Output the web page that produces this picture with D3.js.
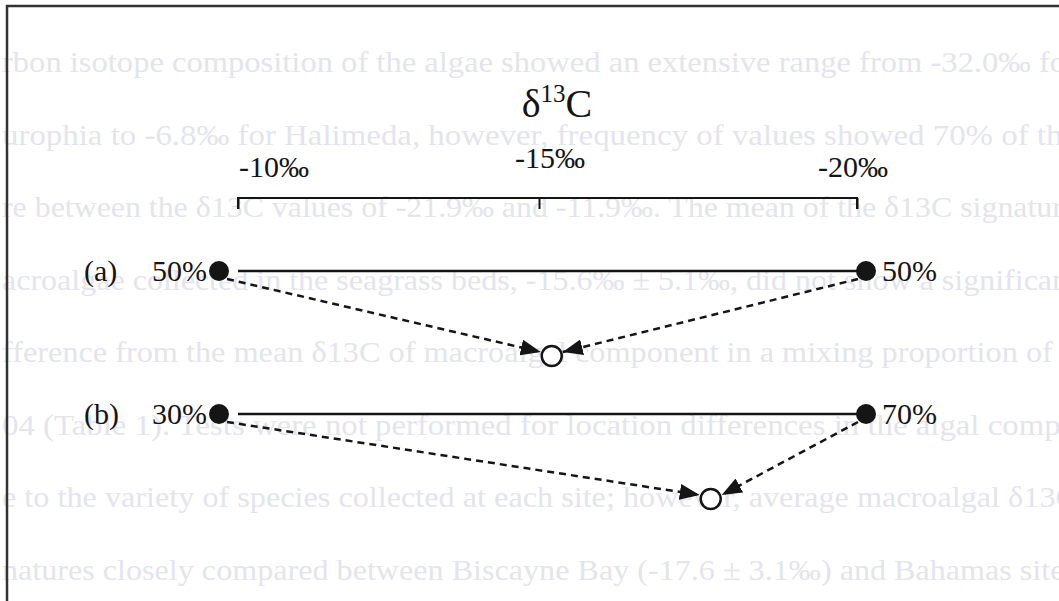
<!DOCTYPE html>
<html>
<head>
<meta charset="utf-8">
<script src="https://cdn.jsdelivr.net/npm/d3@7"></script>
<style>
  body { margin: 0; background: #fff; }
  text { font-family: "Liberation Serif", "Times New Roman", serif; }
</style>
</head>
<body>
<div id="vis"></div>
<script>
    // values
    var tickValues = [-10, -15, -20],
        tickLabels = ["-10‰", "-15‰", "-20‰"],
        rowNames = ["(a)", "(b)"],
        leftShare = [50, 30],
        rightShare = [50, 70],
        endmembers = [-10, -20],
        mixValues = [-15.2, -17.7];

    // bleed-through text from the other side of the page
    var pageLines = [
        "rbon isotope composition of the algae showed an extensive range from -32.0‰ for",
        "urophia to -6.8‰ for Halimeda, however, frequency of values showed 70% of the",
        "re between the δ13C values of -21.9‰ and -11.9‰. The mean of the δ13C signature",
        "acroalgae collected in the seagrass beds, -15.6‰ ± 5.1‰, did not show a significant",
        "fference from the mean δ13C of macroalgal component in a mixing proportion of 7",
        "04 (Table 1). Tests were not performed for location differences in the algal compo",
        "e to the variety of species collected at each site; however, average macroalgal δ13C",
        "natures closely compared between Biscayne Bay (-17.6 ± 3.1‰) and Bahamas sites"
    ];

    var W = 1059, H = 601;
    var ink = "#151515";

    var svg = d3.select("#vis").append("svg").attr("width", W).attr("height", H);

    var x = d3.scaleLinear().domain([-10, -15, -20]).range([238, 539, 857]),
        y = d3.scalePoint().domain(rowNames).range([271, 414]),
        ghostY = d3.scaleLinear().domain([0, pageLines.length - 1]).range([72, 580]);

    // faint page text
    svg.append("g").selectAll("text").data(pageLines).join("text")
        .attr("x", 2).attr("y", function (d, i) { return ghostY(i); })
        .attr("font-size", 29).attr("fill", "#e4e4ed")
        .attr("textLength", 1075).attr("lengthAdjust", "spacingAndGlyphs")
        .text(function (d) { return d; });

    // frame (top and left edge of the box)
    svg.append("path").attr("d", "M7," + H + "V6H" + W)
        .attr("fill", "none").attr("stroke", "#333").attr("stroke-width", 2.5);

    // title
    var title = svg.append("text").attr("x", 557).attr("y", 117)
        .attr("text-anchor", "middle").attr("font-size", 40).attr("fill", ink);
    title.append("tspan").text("δ");
    title.append("tspan").attr("font-size", 25).attr("dy", -15).text("13");
    title.append("tspan").attr("dy", 15).text("C");

    // δ13C axis
    var axisY = 198;
    var axis = d3.axisBottom(x).tickValues(tickValues).tickSize(11).tickFormat("");
    var gAxis = svg.append("g").attr("transform", "translate(0," + axisY + ")").call(axis);
    gAxis.select(".domain").attr("d", "M" + x(-10) + ",11V0H" + x(-20) + "V11")
        .attr("stroke", ink).attr("stroke-width", 2);
    gAxis.selectAll(".tick line").attr("stroke", ink).attr("stroke-width", 2);

    var labelDx = [36, 11, -4], labelDy = [0, -9, 0];
    svg.append("g").selectAll("text").data(tickValues).join("text")
        .attr("x", function (d, i) { return x(d) + labelDx[i]; })
        .attr("y", function (d, i) { return 177 + labelDy[i]; })
        .attr("text-anchor", "middle").attr("font-size", 30).attr("fill", ink)
        .text(function (d, i) { return tickLabels[i]; });

    // arrow head
    svg.append("defs").append("marker")
        .attr("id", "head").attr("markerUnits", "userSpaceOnUse")
        .attr("viewBox", "0 0 20 16").attr("refX", 20).attr("refY", 8)
        .attr("markerWidth", 20).attr("markerHeight", 16).attr("orient", "auto")
        .append("path").attr("d", "M0,0L20,8L0,16Z").attr("fill", ink);

    var dotR = 10, mixDrop = 85;

    rowNames.forEach(function (name, i) {
        var cy = y(name),
            lx = x(endmembers[0]) - 19,
            rx = x(endmembers[1]) + 9,
            mx = x(mixValues[i]),
            my = cy + mixDrop;

        var g = svg.append("g");

        g.append("line").attr("x1", x(endmembers[0])).attr("x2", x(endmembers[1]))
            .attr("y1", cy).attr("y2", cy).attr("stroke", ink).attr("stroke-width", 2.5);

        // dashed mixing paths
        g.append("line").attr("x1", lx + 8).attr("y1", cy + 8)
            .attr("x2", mx - dotR - 1).attr("y2", my - 4)
            .attr("stroke", ink).attr("stroke-width", 2.5).attr("stroke-dasharray", "7,5")
            .attr("marker-end", "url(#head)");
        g.append("line").attr("x1", rx - 8).attr("y1", cy + 8)
            .attr("x2", mx + dotR + 1).attr("y2", my - 4)
            .attr("stroke", ink).attr("stroke-width", 2.5).attr("stroke-dasharray", "7,5")
            .attr("marker-end", "url(#head)");

        g.append("circle").attr("cx", lx).attr("cy", cy).attr("r", dotR).attr("fill", ink);
        g.append("circle").attr("cx", rx).attr("cy", cy).attr("r", dotR).attr("fill", ink);
        g.append("circle").attr("cx", mx).attr("cy", my).attr("r", dotR)
            .attr("fill", "#fff").attr("stroke", ink).attr("stroke-width", 2.5);

        g.append("text").attr("x", lx - dotR - 2).attr("y", cy + 10)
            .attr("text-anchor", "end").attr("font-size", 30).attr("fill", ink)
            .text(leftShare[i] + "%");
        g.append("text").attr("x", rx + dotR + 6).attr("y", cy + 10)
            .attr("font-size", 30).attr("fill", ink)
            .text(rightShare[i] + "%");
        g.append("text").attr("x", 84).attr("y", cy + 10)
            .attr("font-size", 30).attr("fill", ink)
            .text(name);
    });
</script>
</body>
</html>
